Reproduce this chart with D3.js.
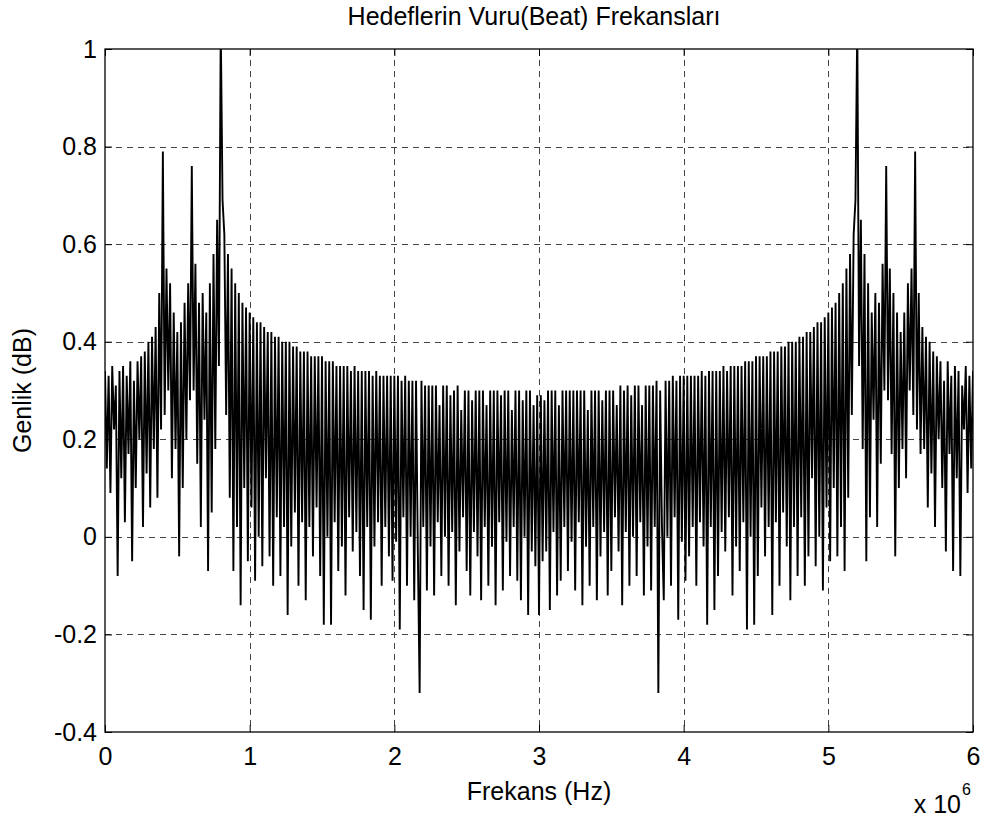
<!DOCTYPE html>
<html>
<head>
<meta charset="utf-8">
<script src="https://cdn.jsdelivr.net/npm/d3@7/dist/d3.min.js"></script>
<style>
  html, body { margin: 0; padding: 0; background: #fff; }
  svg { display: block; font-family: "Liberation Sans", Arial, sans-serif; }
</style>
</head>
<body>
<svg id="chart" width="984" height="819"></svg>
<script>
// ---- data ----
const titleText = "Hedeflerin Vuru(Beat) Frekansları";
const xLabelText = "Frekans (Hz)";
const yLabelText = "Genlik (dB)";
const freqStepHz = 12500;            // sample spacing
const xTickValues = [0, 1, 2, 3, 4, 5, 6];   // in units of 10^6 Hz
const yTickValues = [-0.4, -0.2, 0, 0.2, 0.4, 0.6, 0.8, 1];

// amplitude, first half (0 .. 3 MHz)
const amplitudeLeft = [
  0.34, 0.14, 0.33, 0.09, 0.35, 0.22, 0.31, -0.08, 0.34, 0.12,
  0.35, 0.03, 0.33, 0.17, 0.36, -0.05, 0.32, 0.10, 0.36, 0.20,
  0.37, 0.02, 0.38, 0.13, 0.40, 0.06, 0.41, 0.18, 0.43, 0.08,
  0.50, 0.22, 0.79, 0.25, 0.55, 0.30, 0.52, 0.12, 0.46, 0.18,
  0.42, -0.04, 0.44, 0.10, 0.48, 0.20, 0.52, 0.28, 0.76, 0.30,
  0.56, 0.15, 0.48, 0.02, 0.50, 0.24, 0.46, -0.07, 0.52, 0.05,
  0.58, 0.18, 0.65, 0.35, 1.05, 0.69, 0.62, 0.25, 0.58, 0.08,
  0.55, -0.07, 0.52, 0.02, 0.50, -0.14, 0.48, 0.10, 0.47, -0.05,
  0.46, 0.06, 0.45, -0.09, 0.44, 0.00, 0.44, -0.06, 0.43, 0.12,
  0.42, -0.04, 0.42, -0.10, 0.41, 0.04, 0.41, -0.08, 0.40, 0.02,
  0.40, -0.16, 0.40, -0.02, 0.39, 0.05, 0.39, -0.10, 0.38, 0.03,
  0.38, -0.13, 0.38, 0.02, 0.37, -0.04, 0.37, 0.06, 0.37, -0.08,
  0.37, -0.18, 0.36, 0.00, 0.36, -0.18, 0.36, 0.03, 0.35, -0.07,
  0.35, -0.02, 0.35, -0.12, 0.35, 0.04, 0.34, -0.03, 0.35, 0.01,
  0.34, -0.08, 0.34, -0.15, 0.34, 0.02, 0.34, -0.17, 0.33, -0.02,
  0.34, 0.03, 0.33, -0.10, 0.33, 0.02, 0.33, -0.04, 0.33, -0.09,
  0.33, -0.01, 0.33, -0.19, 0.32, 0.04, 0.33, -0.10, 0.32, 0.00,
  0.32, -0.13, 0.32, -0.03, -0.32, 0.32, 0.02, 0.31, -0.11, 0.31,
  -0.02, 0.31, -0.12, 0.31, 0.03, 0.27, -0.08, 0.31, 0.00, 0.31,
  -0.10, 0.29, 0.01, 0.30, -0.14, 0.31, -0.03, 0.26, 0.04, 0.30,
  -0.07, 0.30, -0.12, 0.28, 0.01, 0.30, -0.04, 0.30, -0.13, 0.30,
  0.02, 0.27, -0.10, 0.30, -0.02, 0.30, -0.14, 0.30, 0.03, 0.29,
  -0.11, 0.30, -0.01, 0.30, -0.08, 0.26, 0.02, 0.30, -0.09, 0.30,
  -0.13, 0.28, 0.00, 0.30, -0.16, 0.30, -0.03, 0.27, -0.06, 0.29,
  -0.16
];

// amplitude, second half (3 .. 6 MHz)
const amplitudeRight = [
  0.29, -0.05, 0.28, -0.03, 0.30, -0.15, 0.30, 0.01, 0.30, -0.12,
  0.27, -0.09, 0.30, 0.02, 0.30, -0.07, 0.30, -0.01, 0.30, -0.11,
  0.30, 0.03, 0.30, -0.14, 0.30, -0.02, 0.26, -0.10, 0.30, 0.02,
  0.30, -0.13, 0.30, -0.04, 0.28, 0.01, 0.30, -0.12, 0.30, -0.07,
  0.30, 0.04, 0.27, -0.03, 0.31, -0.14, 0.30, 0.01, 0.31, -0.10,
  0.29, 0.00, 0.31, -0.08, 0.31, 0.03, 0.27, -0.12, 0.31, -0.02,
  0.31, -0.11, 0.31, 0.02, 0.32, -0.32, 0.30, 0.02, -0.13, 0.32,
  0.00, 0.32, -0.10, 0.33, 0.04, 0.32, -0.17, 0.33, -0.01, 0.33,
  -0.09, 0.33, -0.04, 0.33, 0.02, 0.33, -0.10, 0.33, 0.03, 0.34,
  -0.02, 0.33, -0.18, 0.34, 0.02, 0.34, -0.15, 0.34, -0.08, 0.34,
  0.01, 0.35, -0.03, 0.34, 0.04, 0.35, -0.12, 0.35, -0.02, 0.35,
  -0.07, 0.35, 0.03, 0.36, -0.19, 0.36, 0.00, 0.36, -0.18, 0.37,
  -0.08, 0.37, 0.06, 0.37, -0.04, 0.37, 0.02, 0.38, -0.16, 0.38,
  0.03, 0.38, -0.10, 0.39, 0.05, 0.39, -0.02, 0.40, -0.13, 0.40,
  0.02, 0.40, -0.08, 0.41, 0.04, 0.41, -0.10, 0.42, -0.04, 0.42,
  0.12, 0.43, -0.06, 0.44, 0.00, 0.44, -0.11, 0.45, 0.06, 0.46,
  -0.05, 0.47, 0.10, 0.48, -0.04, 0.50, 0.02, 0.52, -0.07, 0.55,
  0.08, 0.58, 0.25, 0.62, 0.69, 1.05, 0.35, 0.65, 0.18, 0.58,
  -0.05, 0.52, 0.04, 0.46, 0.24, 0.50, 0.02, 0.48, 0.15, 0.56,
  0.30, 0.76, 0.28, 0.55, 0.17, 0.50, -0.04, 0.46, 0.10, 0.42,
  0.18, 0.46, 0.12, 0.52, 0.30, 0.55, 0.25, 0.79, 0.22, 0.50,
  0.17, 0.43, 0.18, 0.41, 0.06, 0.40, 0.13, 0.38, 0.02, 0.37,
  0.20, 0.36, 0.10, 0.32, -0.03, 0.36, 0.17, 0.33, -0.07, 0.35,
  0.12, 0.34, -0.08, 0.31, 0.22, 0.35, 0.09, 0.33, 0.14, 0.34
];

const amplitude = amplitudeLeft.concat(amplitudeRight);

// ---- layout ----
const svg = d3.select("#chart");
const plot = { left: 105, right: 973, top: 49, bottom: 732 };
const fontSize = 25;

const x = d3.scaleLinear().domain([0, 6e6]).range([plot.left, plot.right]);
const y = d3.scaleLinear().domain([-0.4, 1]).range([plot.bottom, plot.top]);

svg.append("rect").attr("x", 0).attr("y", 0).attr("width", 984).attr("height", 819).attr("fill", "#fff");

// grid
const grid = svg.append("g").attr("stroke", "#444").attr("stroke-width", 1)
  .attr("stroke-dasharray", "6,5").attr("shape-rendering", "crispEdges");
xTickValues.slice(1, -1).forEach(v => {
  grid.append("line").attr("x1", Math.round(x(v * 1e6)) + 0.5).attr("x2", Math.round(x(v * 1e6)) + 0.5)
    .attr("y1", plot.top).attr("y2", plot.bottom);
});
yTickValues.slice(1, -1).forEach(v => {
  grid.append("line").attr("y1", Math.round(y(v)) + 0.5).attr("y2", Math.round(y(v)) + 0.5)
    .attr("x1", plot.left).attr("x2", plot.right);
});

// clip
svg.append("clipPath").attr("id", "clip").append("rect")
  .attr("x", plot.left).attr("y", plot.top)
  .attr("width", plot.right - plot.left).attr("height", plot.bottom - plot.top);

const line = d3.line()
  .x((d, i) => x(i * freqStepHz))
  .y(d => y(d));

svg.append("path")
  .datum(amplitude)
  .attr("clip-path", "url(#clip)")
  .attr("fill", "none")
  .attr("stroke", "#000")
  .attr("stroke-width", 1.9)
  .attr("stroke-linejoin", "miter")
  .attr("stroke-miterlimit", 2)
  .attr("d", line);

// axes (ticks inward on all four sides)
const tickLen = 7;
const fmtX = d => String(d / 1e6);
const fmtY = d => String(Math.round(d * 10) / 10);

const xAxisB = d3.axisBottom(x).tickValues(xTickValues.map(v => v * 1e6)).tickSizeInner(-tickLen).tickSizeOuter(0).tickPadding(15).tickFormat(fmtX);
const xAxisT = d3.axisTop(x).tickValues(xTickValues.map(v => v * 1e6)).tickSizeInner(-tickLen).tickSizeOuter(0).tickFormat("");
const yAxisL = d3.axisLeft(y).tickValues(yTickValues).tickSizeInner(-tickLen).tickSizeOuter(0).tickPadding(8).tickFormat(fmtY);
const yAxisR = d3.axisRight(y).tickValues(yTickValues).tickSizeInner(-tickLen).tickSizeOuter(0).tickFormat("");

function styleAxis(g) {
  g.select(".domain").remove();
  g.selectAll("line").attr("stroke", "#000");
  g.selectAll("text").attr("fill", "#000").style("font-size", fontSize + "px")
    .style("font-family", "'Liberation Sans', Arial, sans-serif");
}
svg.append("g").attr("transform", `translate(0,${plot.bottom})`).call(xAxisB).call(styleAxis);
svg.append("g").attr("transform", `translate(0,${plot.top})`).call(xAxisT).call(styleAxis);
svg.append("g").attr("transform", `translate(${plot.left},0)`).call(yAxisL).call(styleAxis);
svg.append("g").attr("transform", `translate(${plot.right},0)`).call(yAxisR).call(styleAxis);

// box
svg.append("rect").attr("x", plot.left).attr("y", plot.top)
  .attr("width", plot.right - plot.left).attr("height", plot.bottom - plot.top)
  .attr("fill", "none").attr("stroke", "#000").attr("stroke-width", 1.3);

// title and labels
svg.append("text").attr("x", 534).attr("y", 25)
  .attr("text-anchor", "middle").style("font-size", fontSize + "px").text(titleText);
svg.append("text").attr("x", (plot.left + plot.right) / 2).attr("y", 800)
  .attr("text-anchor", "middle").style("font-size", fontSize + "px").text(xLabelText);
svg.append("text").attr("transform", `translate(31,${(plot.top + plot.bottom) / 2}) rotate(-90)`)
  .attr("text-anchor", "middle").style("font-size", fontSize + "px").text(yLabelText);

// exponent label
svg.append("text").attr("x", 961).attr("y", 813).attr("text-anchor", "end")
  .style("font-size", fontSize + "px").text("x 10");
svg.append("text").attr("x", 962).attr("y", 795).style("font-size", "16px").text("6");
</script>
</body>
</html>
